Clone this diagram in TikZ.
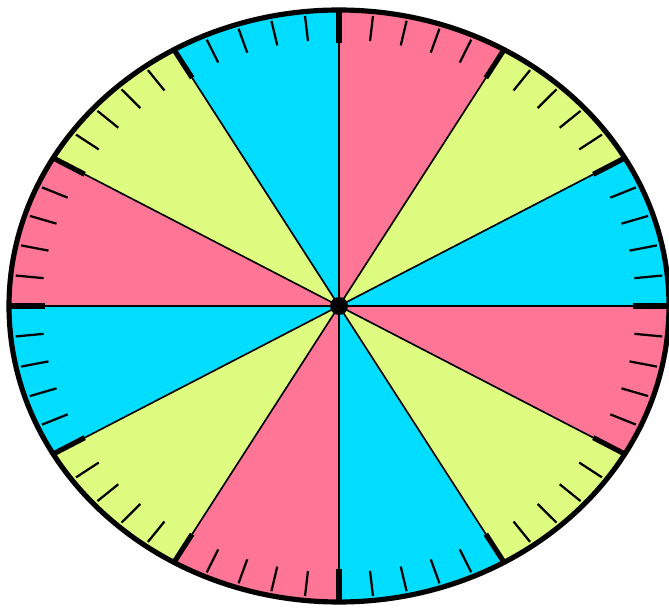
\documentclass[tikz,border=0pt]{standalone}
\usepackage{tikz}
\usepackage{xcolor}
\definecolor{dialpink}{RGB}{255,117,150}
\definecolor{dialyellow}{RGB}{222,252,128}
\definecolor{dialcyan}{RGB}{0,221,255}

\begin{document}
\begin{tikzpicture}[x=0.03cm, y=0.03cm]
  \useasboundingbox (0,0) rectangle (669,610);
  \coordinate (O) at (339,304);

  \begin{scope}[shift={(O)}, xscale=330, yscale=296]
    % Coloured sectors
    \foreach \a/\c in {0/dialcyan, 30/dialyellow, 60/dialpink,
                       90/dialcyan, 120/dialyellow, 150/dialpink,
                       180/dialcyan, 210/dialyellow, 240/dialpink,
                       270/dialcyan, 300/dialyellow, 330/dialpink}
      \fill[\c] (0,0) -- (\a:1) arc (\a:\a+30:1) -- cycle;

    % Dividing lines
    \foreach \a in {0,30,...,330}
      \draw[line width=1.4pt] (0,0) -- (\a:1);

    % Minor ticks
    \foreach \a in {0,6,...,354}
      \draw[line width=1.9pt] (\a:0.9) -- (\a:0.985);

    % Major ticks
    \foreach \a in {0,30,...,330}
      \draw[line width=4.4pt] (\a:0.89) -- (\a:1);

    % Rim
    \draw[line width=4.4pt] (0,0) circle (1);
  \end{scope}

  % Hub
  \fill (O) circle (9);
\end{tikzpicture}
\end{document}
